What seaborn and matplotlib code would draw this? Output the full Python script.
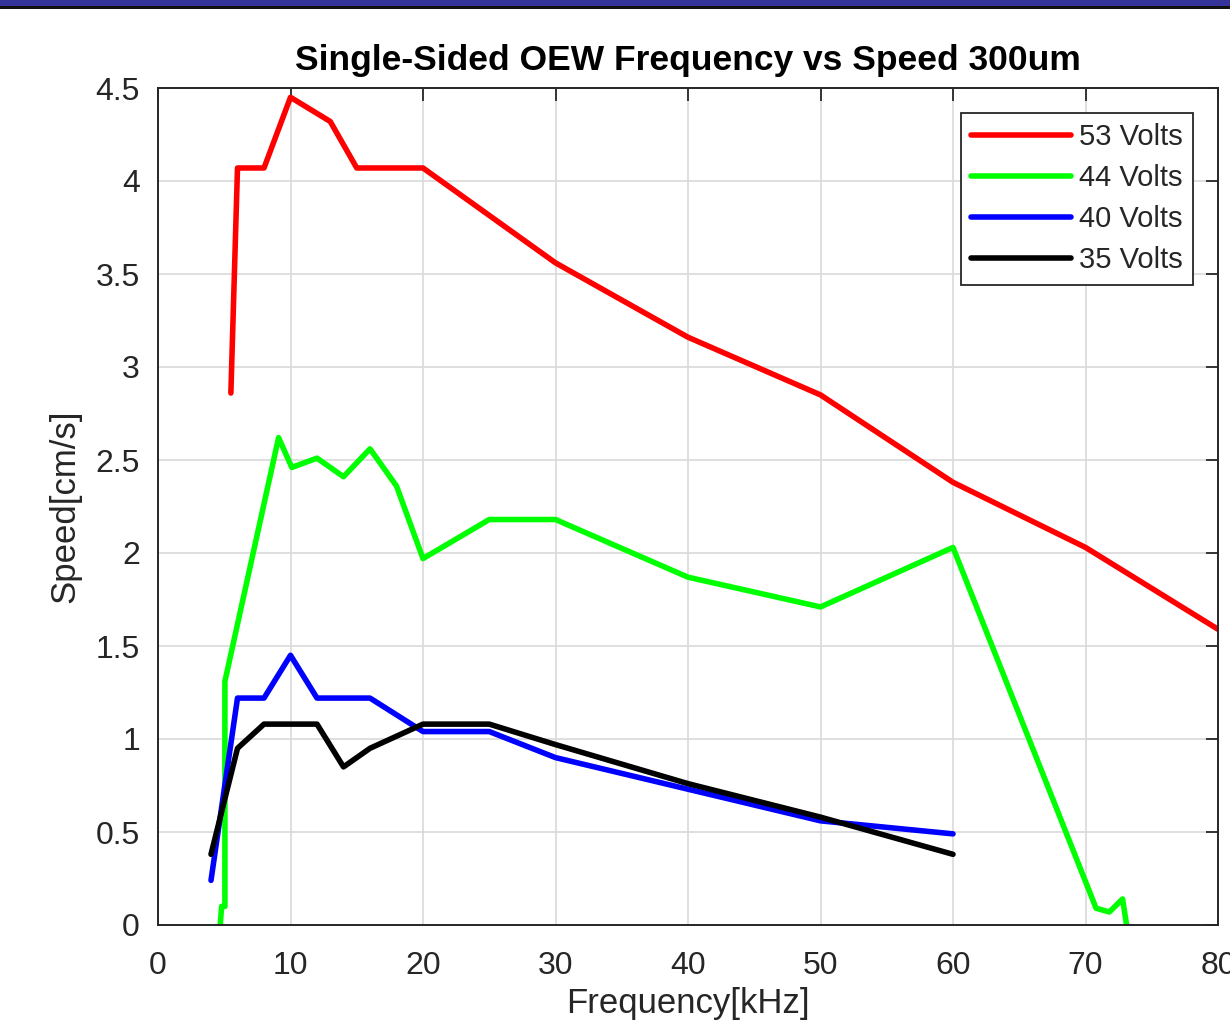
import matplotlib
matplotlib.use('Agg')
import numpy as np
import pandas as pd
import matplotlib.pyplot as plt
import seaborn as sns
from matplotlib.patches import Rectangle

# values
labels = ['53 Volts', '44 Volts', '40 Volts', '35 Volts']
colors = ['#ff0000', '#00ff00', '#0000ff', '#000000']

freq_53 = [5.5, 6, 8, 10, 13, 15, 20, 30, 40, 50, 60, 70, 80]
speed_53 = [2.86, 4.07, 4.07, 4.45, 4.32, 4.07, 4.07, 3.56, 3.16, 2.85, 2.38, 2.03, 1.59]

freq_44 = [4.7, 4.8, 5.05, 5.05, 9.1, 10.1, 12, 14, 16, 18, 20, 25, 30, 40, 50, 60,
           70.8, 71.8, 72.8, 73.1]
speed_44 = [0, 0.1, 0.1, 1.31, 2.62, 2.46, 2.51, 2.41, 2.56, 2.36, 1.97, 2.18, 2.18,
            1.87, 1.71, 2.03, 0.09, 0.07, 0.14, 0.0]

freq_40 = [4, 6, 8, 10, 12, 16, 20, 25, 30, 40, 50, 60]
speed_40 = [0.24, 1.22, 1.22, 1.45, 1.22, 1.22, 1.04, 1.04, 0.9, 0.73, 0.56, 0.49]

freq_35 = [4, 6, 8, 12, 14, 16, 20, 25, 30, 40, 50, 60]
speed_35 = [0.38, 0.95, 1.08, 1.08, 0.85, 0.95, 1.08, 1.08, 0.97, 0.76, 0.58, 0.38]

xticks = [0, 10, 20, 30, 40, 50, 60, 70, 80]
yticks = [0, 0.5, 1, 1.5, 2, 2.5, 3, 3.5, 4, 4.5]
ytick_labels = ['0', '0.5', '1', '1.5', '2', '2.5', '3', '3.5', '4', '4.5']

# long form table for seaborn
frames = []
for lab, f, s in zip(labels, [freq_53, freq_44, freq_40, freq_35],
                     [speed_53, speed_44, speed_40, speed_35]):
    frames.append(pd.DataFrame({'freq': f, 'speed': s, 'volts': lab}))
df = pd.concat(frames, ignore_index=True)

sns.set_style('white')
plt.rcParams['font.family'] = ['Liberation Sans', 'DejaVu Sans']

fig = plt.figure(figsize=(12.3, 10.24), dpi=100)
ax = fig.add_axes([158 / 1230, 99 / 1024, 1060 / 1230, 837 / 1024])

# top window bar
fig.add_artist(Rectangle((0, 1 - 6 / 1024), 1, 6 / 1024, transform=fig.transFigure,
                         facecolor='#333399', edgecolor='none'))
fig.add_artist(Rectangle((0, 1 - 9 / 1024), 1, 3 / 1024, transform=fig.transFigure,
                         facecolor='#111111', edgecolor='none'))

sns.lineplot(data=df, x='freq', y='speed', hue='volts', hue_order=labels,
             palette=colors, estimator=None, sort=False, linewidth=4, ax=ax)

ax.set_xlim(0, 80)
ax.set_ylim(0, 4.5)
ax.set_xticks(xticks)
ax.set_yticks(yticks)
ax.set_yticklabels(ytick_labels)
ax.grid(True, color='#d9d9d9', linewidth=1.2)
ax.set_axisbelow(True)
ax.tick_params(direction='in', length=9, width=1.3, colors='#262626',
               labelsize=23, top=True, right=True, labeltop=False, labelright=False)
ax.tick_params(axis='x', pad=19)
ax.tick_params(axis='y', pad=13)
for sp in ax.spines.values():
    sp.set_color('#262626')
    sp.set_linewidth(1.4)

ax.set_xlabel('Frequency[kHz]', fontsize=25, color='#262626', labelpad=4)
ax.set_ylabel('Speed[cm/s]', fontsize=25, color='#262626', labelpad=10)
ax.set_title('Single-Sided OEW Frequency vs Speed 300um', fontsize=25.5,
             fontweight='bold', color='#000000', pad=13)

leg = ax.legend(loc='upper right', fontsize=21, frameon=True, fancybox=False,
                framealpha=1, edgecolor='#262626', handlelength=3.4,
                labelspacing=0.45, borderaxespad=0.85, handletextpad=0.3,
                borderpad=0.35, title=None)
leg.get_frame().set_linewidth(1.3)
for t in leg.get_texts():
    t.set_color('#262626')
for h in leg.get_lines():
    h.set_linewidth(4)

fig.savefig('out.png', dpi=100)
